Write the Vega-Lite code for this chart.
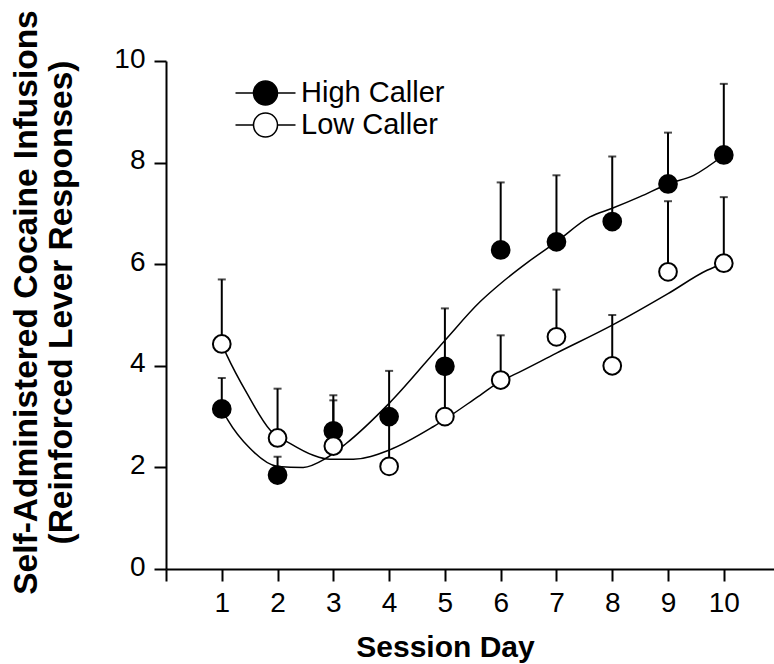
{
  "$schema": "https://vega.github.io/schema/vega-lite/v6.json",
  "width": 608,
  "height": 508,
  "autosize": {"type": "none"},
  "padding": {"left": 166, "top": 61, "right": 0, "bottom": 95},
  "background": "white",
  "config": {
    "view": {"stroke": null},
    "font": "Liberation Sans",
    "axis": {
      "grid": false,
      "domainColor": "black",
      "domainWidth": 2,
      "tickColor": "black",
      "tickWidth": 2,
      "tickSize": 12,
      "labelFont": "Liberation Sans",
      "labelFontSize": 28,
      "labelColor": "black",
      "titleFont": "Liberation Sans",
      "titleFontSize": 33.5,
      "titleFontWeight": "bold",
      "titleColor": "black"
    }
  },
  "datasets": {
    "points": [
      {"day": 1, "group": "High Caller", "mean": 3.15, "upper": 3.76},
      {"day": 2, "group": "High Caller", "mean": 1.85, "upper": 2.21},
      {"day": 3, "group": "High Caller", "mean": 2.72, "upper": 3.42},
      {"day": 4, "group": "High Caller", "mean": 3.0, "upper": 3.9},
      {"day": 5, "group": "High Caller", "mean": 3.99, "upper": 5.13},
      {"day": 6, "group": "High Caller", "mean": 6.28, "upper": 7.61},
      {"day": 7, "group": "High Caller", "mean": 6.44, "upper": 7.75},
      {"day": 8, "group": "High Caller", "mean": 6.84, "upper": 8.12},
      {"day": 9, "group": "High Caller", "mean": 7.58, "upper": 8.59},
      {"day": 10, "group": "High Caller", "mean": 8.15, "upper": 9.55},
      {"day": 1, "group": "Low Caller", "mean": 4.43, "upper": 5.7},
      {"day": 2, "group": "Low Caller", "mean": 2.58, "upper": 3.55},
      {"day": 3, "group": "Low Caller", "mean": 2.42, "upper": 3.32},
      {"day": 4, "group": "Low Caller", "mean": 2.02, "upper": 3.0},
      {"day": 5, "group": "Low Caller", "mean": 3.0, "upper": 3.9},
      {"day": 6, "group": "Low Caller", "mean": 3.72, "upper": 4.6},
      {"day": 7, "group": "Low Caller", "mean": 4.57, "upper": 5.5},
      {"day": 8, "group": "Low Caller", "mean": 4.0, "upper": 5.0},
      {"day": 9, "group": "Low Caller", "mean": 5.85, "upper": 7.24},
      {"day": 10, "group": "Low Caller", "mean": 6.02, "upper": 7.32}
    ],
    "curve": [
      {"group": "High Caller", "x": 1.0, "y": 3.15},
      {"group": "High Caller", "x": 1.11, "y": 2.93},
      {"group": "High Caller", "x": 1.5, "y": 2.38},
      {"group": "High Caller", "x": 2.0, "y": 2.02},
      {"group": "High Caller", "x": 2.46, "y": 2.0},
      {"group": "High Caller", "x": 2.87, "y": 2.18},
      {"group": "High Caller", "x": 3.23, "y": 2.47},
      {"group": "High Caller", "x": 4.0, "y": 3.26},
      {"group": "High Caller", "x": 5.0, "y": 4.5},
      {"group": "High Caller", "x": 5.63, "y": 5.26},
      {"group": "High Caller", "x": 6.0, "y": 5.62},
      {"group": "High Caller", "x": 6.5, "y": 6.05},
      {"group": "High Caller", "x": 7.0, "y": 6.44},
      {"group": "High Caller", "x": 7.6, "y": 6.93},
      {"group": "High Caller", "x": 8.0, "y": 7.1},
      {"group": "High Caller", "x": 8.5, "y": 7.33},
      {"group": "High Caller", "x": 9.0, "y": 7.58},
      {"group": "High Caller", "x": 9.46, "y": 7.75},
      {"group": "High Caller", "x": 10.0, "y": 8.15},
      {"group": "Low Caller", "x": 1.0, "y": 4.43},
      {"group": "Low Caller", "x": 1.09, "y": 4.21},
      {"group": "Low Caller", "x": 1.45, "y": 3.46},
      {"group": "Low Caller", "x": 1.87, "y": 2.73},
      {"group": "Low Caller", "x": 2.23, "y": 2.47},
      {"group": "Low Caller", "x": 2.64, "y": 2.24},
      {"group": "Low Caller", "x": 2.94, "y": 2.16},
      {"group": "Low Caller", "x": 3.36, "y": 2.16},
      {"group": "Low Caller", "x": 4.0, "y": 2.34},
      {"group": "Low Caller", "x": 4.79, "y": 2.8},
      {"group": "Low Caller", "x": 5.63, "y": 3.42},
      {"group": "Low Caller", "x": 6.0, "y": 3.7},
      {"group": "Low Caller", "x": 6.23, "y": 3.82},
      {"group": "Low Caller", "x": 7.0, "y": 4.25},
      {"group": "Low Caller", "x": 8.0, "y": 4.8},
      {"group": "Low Caller", "x": 9.0, "y": 5.42},
      {"group": "Low Caller", "x": 9.7, "y": 5.88},
      {"group": "Low Caller", "x": 10.0, "y": 6.02}
    ]
  },
  "layer": [
    {
      "data": {"name": "curve"},
      "mark": {"type": "line", "interpolate": "monotone", "color": "black", "strokeWidth": 1.5},
      "encoding": {
        "x": {
          "field": "x", "type": "quantitative",
          "scale": {"domain": [0, 10.9], "nice": false, "zero": false},
          "axis": {
            "values": [0, 1, 2, 3, 4, 5, 6, 7, 8, 9, 10],
            "format": "d",
            "labelExpr": "datum.value == 0 ? '' : datum.label",
            "labelBaseline": "alphabetic",
            "labelPadding": 30,
            "title": "Session Day",
            "titleFontSize": 30,
            "titleX": 279,
            "titleY": 87,
            "titleBaseline": "alphabetic",
            "titleAnchor": null
          }
        },
        "y": {
          "field": "y", "type": "quantitative",
          "scale": {"domain": [0, 10], "nice": false},
          "axis": {
            "values": [0, 2, 4, 6, 8, 10],
            "labelPadding": 9,
            "labelBaseline": "alphabetic",
            "labelOffset": 6,
            "title": ["Self-Administered Cocaine Infusions", "(Reinforced Lever Responses)"],
            "titleLineHeight": 35,
            "titleAngle": -90,
            "titleX": -123,
            "titleY": 241,
            "titleAlign": "center",
            "titleBaseline": "bottom"
          }
        },
        "detail": {"field": "group"}
      }
    },
    {
      "data": {"name": "points"},
      "mark": {"type": "rule", "color": "black", "strokeWidth": 2},
      "encoding": {
        "x": {"field": "day", "type": "quantitative"},
        "y": {"field": "mean", "type": "quantitative"},
        "y2": {"field": "upper"}
      }
    },
    {
      "data": {"name": "points"},
      "mark": {"type": "tick", "orient": "horizontal", "color": "black", "size": 8, "thickness": 2},
      "encoding": {
        "x": {"field": "day", "type": "quantitative"},
        "y": {"field": "upper", "type": "quantitative"}
      }
    },
    {
      "data": {"name": "points"},
      "mark": {"type": "circle", "size": 314, "stroke": "black", "strokeWidth": 2, "opacity": 1, "fillOpacity": 1},
      "encoding": {
        "x": {"field": "day", "type": "quantitative"},
        "y": {"field": "mean", "type": "quantitative"},
        "fill": {
          "field": "group", "type": "nominal",
          "scale": {"domain": ["High Caller", "Low Caller"], "range": ["black", "white"]},
          "legend": {
            "title": null,
            "orient": "none",
            "legendX": 85,
            "legendY": 17.5,
            "padding": 0,
            "symbolType": "M-2.5,0H-1M1,0H2.5M-1,0A1,1 0 1,1 1,0A1,1 0 1,1 -1,0Z",
            "symbolSize": 576,
            "symbolStrokeColor": "black",
            "symbolStrokeWidth": 1.5,
            "symbolOpacity": 1,
            "labelFont": "Liberation Sans",
            "labelFontSize": 29,
            "labelColor": "black",
            "labelOffset": 21,
            "rowPadding": 1
          }
        }
      }
    }
  ]
}
